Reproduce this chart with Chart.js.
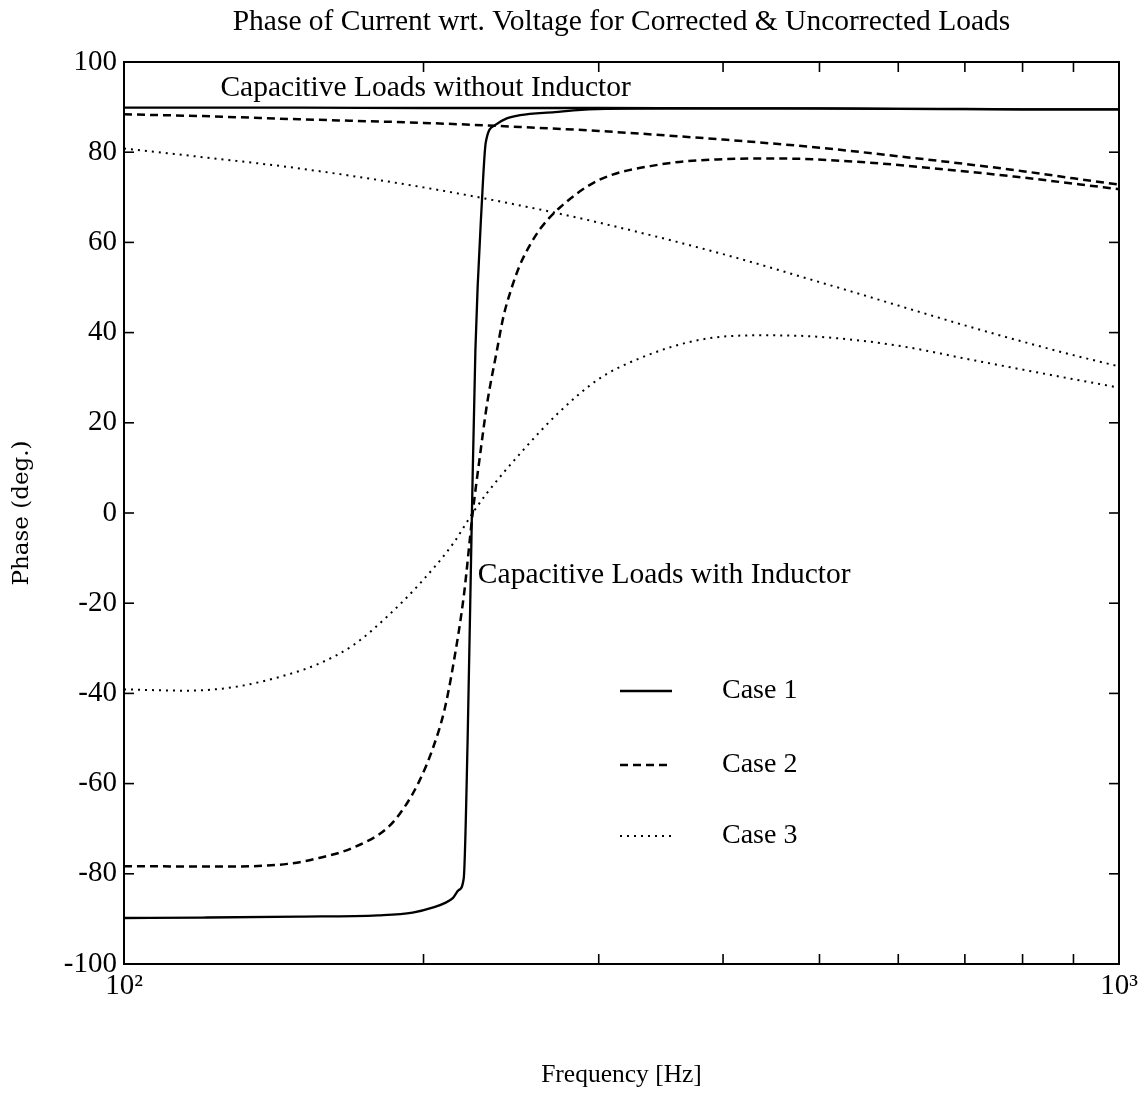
<!DOCTYPE html>
<html><head><meta charset="utf-8">
<script src="https://cdn.jsdelivr.net/npm/chart.js@4.4.1/dist/chart.umd.min.js"></script>
<style>html,body{margin:0;padding:0;background:#fff;}canvas{display:block}</style>
</head><body>
<canvas id="c" width="1144" height="1095"></canvas>
<script>
// ---- text ----
const titleText = 'Phase of Current wrt. Voltage for Corrected & Uncorrected Loads';
const xTitle = 'Frequency [Hz]';
const yTitle = 'Phase (deg.)';
const seriesNames = ['Case 1', 'Case 2', 'Case 3'];
const noteAbove = 'Capacitive Loads without Inductor';
const noteBelow = 'Capacitive Loads with Inductor';
const xTickValues = [100, 200, 300, 400, 500, 600, 700, 800, 900, 1000];
const xTickLabels = {100: '10²', 1000: '10³'};
const yMin = -100, yMax = 100, yStep = 20;
const xMin = 100, xMax = 1000;

// ---- capacitive loads without inductor ----
const freqUncorr  = [100, 120, 150, 200, 250, 300, 400, 500, 600, 700, 800, 900, 1000];
const case1Uncorr = [89.9, 89.9, 89.9, 89.8, 89.8, 89.8, 89.7, 89.7, 89.6, 89.6, 89.5, 89.5, 89.5];
const case2Uncorr = [88.4, 88.0, 87.3, 86.5, 85.6, 84.7, 82.8, 81.0, 79.1, 77.4, 75.8, 74.2, 72.8];
const case3Uncorr = [80.8, 78.9, 76.4, 72.2, 68.2, 64.4, 57.4, 51.2, 46.0, 41.6, 38.0, 35.0, 32.5];

// ---- capacitive loads with inductor ----
const freqCase1 = [100, 120, 150, 180, 195, 205, 210, 214, 217, 219.5, 221.5, 223.7, 225.5, 229, 231, 236, 242.5, 250, 271, 288, 350, 450, 600, 800, 1000];
const case1Corr = [-89.8, -89.7, -89.5, -89.2, -88.6, -87.4, -86.5, -85.4, -83.6, -81.0, -50, 0, 36, 69.6, 82.2, 86.0, 87.5, 88.2, 88.9, 89.4, 89.7, 89.7, 89.6, 89.5, 89.5];

const freqCase2 = [100, 125, 146, 157, 170, 184, 191, 198, 204.5, 210, 214.5, 219.5, 224.1, 228, 231.6, 237, 240.6, 244.9, 250, 256, 262, 274.4, 300, 344, 395, 453, 544, 653, 784, 1000];
const case2Corr = [-78.3, -78.4, -77.8, -76.5, -74.2, -69.8, -65.5, -59.5, -52, -43.5, -33, -18.5, 0, 13, 24, 36, 43.5, 49.5, 55, 59.5, 63, 67.8, 73.8, 77.2, 78.4, 78.6, 77.9, 76.4, 74.6, 71.8];

const freqCase3 = [100, 115.6, 129.8, 145.7, 157.4, 170, 183.8, 198.4, 214.3, 224.1, 231.6, 252, 273.6, 300, 329, 377, 432, 497, 596, 717, 859, 1000];
const case3Corr = [-39.1, -39.4, -38.5, -35.9, -33.3, -29.3, -23.0, -15.6, -6.7, 0, 4.4, 14.0, 22.3, 29.7, 34.2, 38.3, 39.4, 39.1, 37.2, 33.8, 30.5, 27.8];

// ---- helpers ----
const pts = (f, v) => f.map((x, i) => ({x: x, y: v[i]}));
const SERIF = '"Liberation Serif", "Times New Roman", serif';
const styleSolid  = {borderDash: [],     borderWidth: 2.3};
const styleDashed = {borderDash: [8, 5], borderWidth: 2.5};
const styleDotted = {borderDash: [2, 5], borderWidth: 2};
const caseStyles = [styleSolid, styleDashed, styleDotted];

function ds(label, data, st) {
  return Object.assign({
    label: label, data: data, borderColor: '#000', backgroundColor: '#000',
    pointRadius: 0, fill: false, cubicInterpolationMode: 'monotone',
    borderCapStyle: 'butt', borderJoinStyle: 'round'
  }, st);
}

const datasets = [
  ds(seriesNames[0] + ' (without inductor)', pts(freqUncorr, case1Uncorr), styleSolid),
  ds(seriesNames[1] + ' (without inductor)', pts(freqUncorr, case2Uncorr), styleDashed),
  ds(seriesNames[2] + ' (without inductor)', pts(freqUncorr, case3Uncorr), styleDotted),
  ds(seriesNames[0] + ' (with inductor)', pts(freqCase1, case1Corr), styleSolid),
  ds(seriesNames[1] + ' (with inductor)', pts(freqCase2, case2Corr), styleDashed),
  ds(seriesNames[2] + ' (with inductor)', pts(freqCase3, case3Corr), styleDotted)
];

const decor = {
  id: 'decor',
  afterDatasetsDraw(chart) {
    const {ctx, chartArea: a, scales: {x, y}} = chart;
    ctx.save();
    ctx.strokeStyle = '#000';
    ctx.fillStyle = '#000';
    ctx.setLineDash([]);
    ctx.lineWidth = 2;
    ctx.strokeRect(a.left, a.top, a.right - a.left, a.bottom - a.top);
    ctx.lineWidth = 1.6;
    const seg = (x1, y1, x2, y2) => { ctx.beginPath(); ctx.moveTo(x1, y1); ctx.lineTo(x2, y2); ctx.stroke(); };
    x.ticks.forEach(t => {
      const px = x.getPixelForValue(t.value);
      if (px <= a.left + 1 || px >= a.right - 1) return;
      seg(px, a.bottom, px, a.bottom - 10);
      seg(px, a.top, px, a.top + 10);
    });
    y.ticks.forEach(t => {
      const py = y.getPixelForValue(t.value);
      if (py <= a.top + 1 || py >= a.bottom - 1) return;
      seg(a.left, py, a.left + 10, py);
      seg(a.right, py, a.right - 10, py);
    });
    ctx.font = '29.5px ' + SERIF;
    ctx.textAlign = 'left';
    ctx.textBaseline = 'middle';
    ctx.fillText(noteAbove, x.getPixelForValue(125), y.getPixelForValue(94.2));
    ctx.fillText(noteBelow, x.getPixelForValue(226.8), y.getPixelForValue(-13.7));
    ctx.font = '28px ' + SERIF;
    const rows = [629, 703, 774];
    for (let i = 0; i < 3; i++) {
      const ly = a.top + rows[i];
      ctx.save();
      ctx.lineWidth = caseStyles[i].borderWidth;
      ctx.setLineDash(caseStyles[i].borderDash);
      seg(a.left + 496, ly, a.left + 548, ly);
      ctx.restore();
      ctx.fillText(seriesNames[i], a.left + 598, ly);
    }
    ctx.restore();
  }
};

new Chart(document.getElementById('c'), {
  type: 'line',
  data: {datasets: datasets},
  options: {
    responsive: false,
    animation: false,
    devicePixelRatio: 1,
    layout: {padding: {left: 0, right: 25, top: 0, bottom: 0}},
    plugins: {
      legend: {display: false},
      tooltip: {enabled: false},
      title: {
        display: true, text: titleText, color: '#000', fullSize: false,
        font: {family: SERIF, size: 29.5, weight: 'normal'},
        padding: {top: 5, bottom: 21.6}
      }
    },
    scales: {
      x: {
        type: 'logarithmic', min: xMin, max: xMax,
        afterFit: s => { s.height = 131; },
        afterBuildTicks: s => { s.ticks = xTickValues.map(v => ({value: v})); },
        grid: {display: false, drawTicks: false},
        border: {display: false},
        ticks: {
          autoSkip: false, maxRotation: 0, padding: 5, color: '#000',
          font: {family: SERIF, size: 29},
          callback: v => (xTickLabels[v] !== undefined ? xTickLabels[v] : '')
        },
        title: {
          display: true, text: xTitle, color: '#000',
          font: {family: SERIF, size: 25.5}, padding: {top: 0, bottom: 4}
        }
      },
      y: {
        type: 'linear', min: yMin, max: yMax,
        afterFit: s => { s.width = 124; },
        grid: {display: false, drawTicks: false},
        border: {display: false},
        ticks: {
          stepSize: yStep, padding: 7, color: '#000',
          font: {family: SERIF, size: 29},
          callback: v => String(v)
        },
        title: {
          display: true, text: yTitle, color: '#000',
          font: {family: '"DejaVu Serif", serif', size: 23}, padding: {top: 8, bottom: 0}
        }
      }
    }
  },
  plugins: [decor]
});
</script>
</body></html>
